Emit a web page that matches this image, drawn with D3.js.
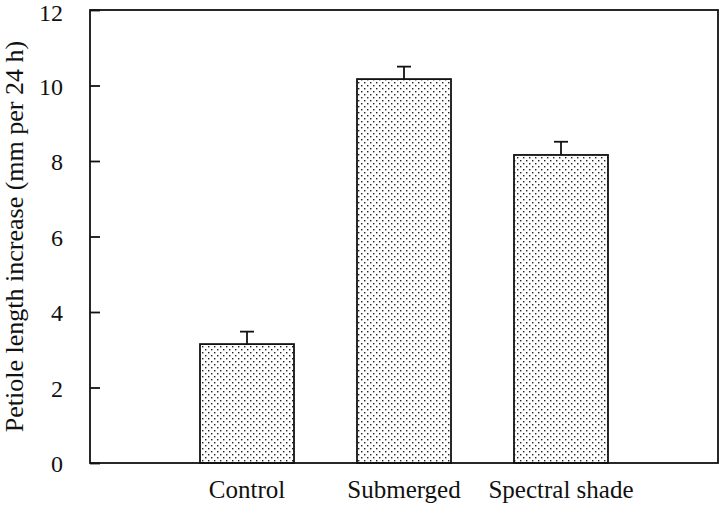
<!DOCTYPE html>
<html><head><meta charset="utf-8">
<script src="https://cdn.jsdelivr.net/npm/d3@7"></script>
<style>html,body{margin:0;padding:0;background:#fff;} text{font-family:"Liberation Serif","DejaVu Serif",serif;}</style>
</head><body>
<svg id="c" width="720" height="506"></svg>
<script>
const categories = ["Control", "Submerged", "Spectral shade"];
const values = [3.15, 10.17, 8.16];
const errors = [0.33, 0.33, 0.35];
const yTicks = [0, 2, 4, 6, 8, 10, 12];

const svg = d3.select("#c");
const L = 90, R = 718, T = 10, B = 463;
const font = '"Liberation Serif", "DejaVu Serif", serif';

const x = d3.scaleLinear().domain([0, categories.length + 1]).range([L, R]);
const y = d3.scaleLinear().domain([0, 12]).range([B, T]);
const barW = 94;

const defs = svg.append("defs");
const pat = defs.append("pattern").attr("id", "dots").attr("patternUnits", "userSpaceOnUse")
  .attr("width", 6).attr("height", 6);
pat.append("rect").attr("width", 6).attr("height", 6).attr("fill", "#fff");
pat.append("rect").attr("x", 1).attr("y", 1).attr("width", 1.4).attr("height", 1.4).attr("fill", "#222");
pat.append("rect").attr("x", 4).attr("y", 4).attr("width", 1.4).attr("height", 1.4).attr("fill", "#222");

// bars
categories.forEach((c, i) => {
  const cx = x(i + 1);
  svg.append("rect").attr("x", cx - barW / 2).attr("y", y(values[i]))
    .attr("width", barW).attr("height", y(0) - y(values[i]))
    .attr("fill", "url(#dots)").attr("stroke", "#111").attr("stroke-width", 1.8);
  svg.append("line").attr("x1", cx).attr("x2", cx).attr("y1", y(values[i]))
    .attr("y2", y(values[i] + errors[i])).attr("stroke", "#111").attr("stroke-width", 1.8);
  svg.append("line").attr("x1", cx - 7).attr("x2", cx + 7)
    .attr("y1", y(values[i] + errors[i])).attr("y2", y(values[i] + errors[i]))
    .attr("stroke", "#111").attr("stroke-width", 1.8);
  svg.append("text").attr("x", cx).attr("y", 498).attr("text-anchor", "middle")
    .style("font-family", font).style("font-size", "25px").attr("fill", "#111").text(c);
});

// frame
svg.append("rect").attr("x", L).attr("y", T).attr("width", R - L).attr("height", B - T)
  .attr("fill", "none").attr("stroke", "#111").attr("stroke-width", 1.8);

// y axis
const yAxis = d3.axisLeft(y).tickValues(yTicks).tickSize(-10).tickPadding(27).tickFormat(d3.format("d"));
const g = svg.append("g").attr("transform", `translate(${L},0)`).call(yAxis);
g.attr("font-family", null).attr("font-size", null);
g.select(".domain").remove();
g.selectAll(".tick line").attr("stroke", "#111").attr("stroke-width", 1.8);
g.selectAll(".tick text").style("font-family", font).style("font-size", "24px").attr("fill", "#111")
  .attr("dy", d => d === 12 ? "0.42em" : "0.36em");

svg.append("text").attr("transform", `translate(23,${(T + B) / 2}) rotate(-90)`)
  .attr("text-anchor", "middle").style("font-family", font).style("font-size", "26px")
  .attr("fill", "#111").text("Petiole length increase (mm per 24 h)");
</script>
</body></html>
